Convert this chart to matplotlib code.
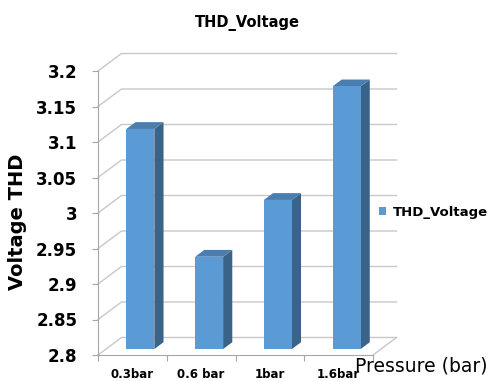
import matplotlib
matplotlib.use('Agg')
import matplotlib.pyplot as plt
from matplotlib.patches import Polygon

# THD of the voltage at each pressure
categories = ['0.3bar', '0.6 bar', '1bar', '1.6bar']
thd_voltage = [3.11, 2.93, 3.01, 3.17]
yticks = [2.8, 2.85, 2.9, 2.95, 3.0, 3.05, 3.1, 3.15, 3.2]
ytick_labels = ['2.8', '2.85', '2.9', '2.95', '3', '3.05', '3.1', '3.15', '3.2']

plt.rcParams['font.family'] = 'DejaVu Sans'

fig = plt.figure(figsize=(4.93, 3.81), dpi=100)
ax = fig.add_axes([98/493, 26/381, 275/493, 284/381])
ax.set_xlim(0, 4)
ax.set_ylim(2.8, 3.2)

# oblique depth of the 3d box, in data units
dx, dy = 0.342, 0.02465
grid_c = '#c8c8c8'
ymin = yticks[0]
n = len(categories)

# walls: diagonal lines on the side wall + horizontal lines on the back wall
for v in yticks:
    ax.plot([0, dx, n + dx], [v, v + dy, v + dy], c=grid_c, lw=1, clip_on=False, zorder=1)
ax.plot([n, n + dx], [ymin, ymin + dy], c=grid_c, lw=1, clip_on=False, zorder=1)

# bars sit a bit behind the front plane
f0, depth, width = 0.34, 0.39, 0.407
xs = [i + 0.5 + f0 * dx for i in range(n)]
base = ymin + f0 * dy
front = ax.bar(xs, [v - ymin for v in thd_voltage], width=width, bottom=base,
               color='#5b9bd5', label='THD_Voltage', zorder=4, clip_on=False)

ddx, ddy = depth * dx, depth * dy
for rect in front:
    x0 = rect.get_x()
    x1 = x0 + rect.get_width()
    y0 = rect.get_y()
    y1 = y0 + rect.get_height()
    side = Polygon([(x1, y0), (x1 + ddx, y0 + ddy), (x1 + ddx, y1 + ddy), (x1, y1)],
                   closed=True, fc='#3a6389', ec='none', zorder=3, clip_on=False)
    top = Polygon([(x0, y1), (x1, y1), (x1 + ddx, y1 + ddy), (x0 + ddx, y1 + ddy)],
                  closed=True, fc='#4a7db0', ec='none', zorder=3, clip_on=False)
    ax.add_patch(side)
    ax.add_patch(top)

for s in ['top', 'right']:
    ax.spines[s].set_visible(False)
for s in ['left', 'bottom']:
    ax.spines[s].set_color('#a6a6a6')
    ax.spines[s].set_zorder(2)

ax.set_yticks(yticks)
ax.set_yticklabels(ytick_labels, fontsize=12, fontweight='bold')
ax.tick_params(axis='y', length=4, color='#a6a6a6', pad=11)

ax.set_xticks(range(n + 1))
ax.set_xticklabels([])
ax.set_xticks([i + 0.5 for i in range(n)], minor=True)
ax.set_xticklabels(categories, minor=True, fontsize=8.5, fontweight='bold')
ax.tick_params(axis='x', which='major', length=4, color='#a6a6a6')
ax.tick_params(axis='x', which='minor', length=0, pad=9)

ax.set_ylabel('Voltage THD', fontsize=14, fontweight='bold')
ax.yaxis.set_label_coords(-71/275, 0.47)
fig.text(421/493, 1 - 366/381, 'Pressure (bar)', fontsize=13.5, ha='center', va='center')
fig.text(247/493, 1 - 23/381, 'THD_Voltage', fontsize=10.5, fontweight='bold',
         ha='center', va='center')

ax.legend(loc='center left', bbox_to_anchor=(379/493, 1 - 212/381),
          bbox_transform=fig.transFigure, frameon=False, borderpad=0, borderaxespad=0,
          handlelength=0.55, handleheight=0.55, handletextpad=0.5,
          prop={'size': 9.5, 'weight': 'bold'})

fig.savefig('out.png', dpi=100)
